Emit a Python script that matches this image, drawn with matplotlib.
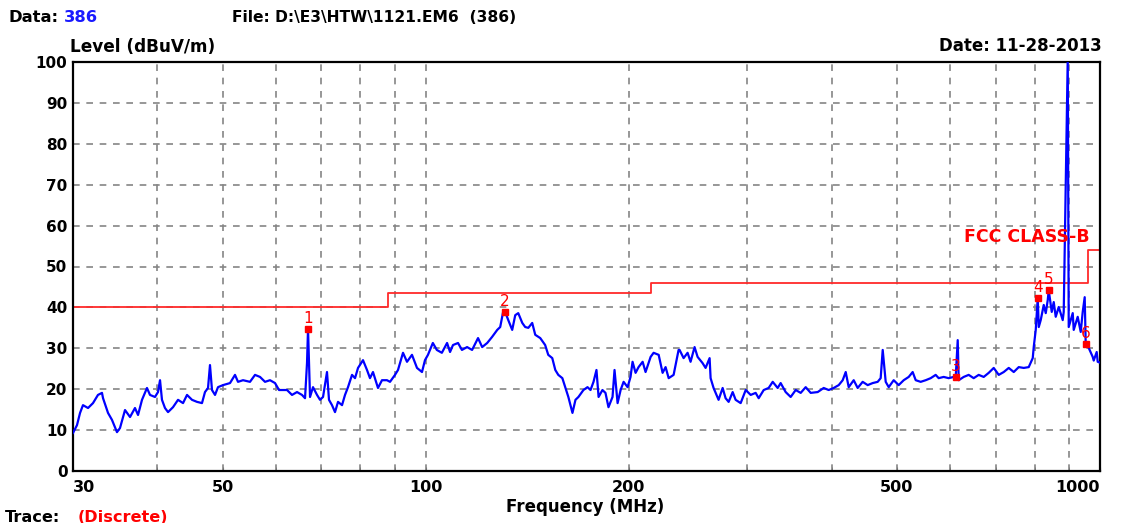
import matplotlib.pyplot as plt
from matplotlib.ticker import FixedLocator, NullLocator, NullFormatter

plt.rcParams['font.family'] = ['DejaVu Sans']

# scan data (MHz, dBuV/m)
freq = [30.0, 30.41, 30.73, 31.04, 31.58, 32.12, 32.67, 33.12, 33.24, 33.81, 34.27, 34.86, 35.22, 35.83,
        36.45, 37.07, 37.46, 37.97, 38.62, 39.02, 39.69, 40.10, 40.38, 40.65, 41.07, 41.50, 42.21, 42.94,
        43.68, 44.28, 45.04, 45.82, 46.60, 47.08, 47.57, 47.89, 48.22, 48.72, 49.22, 50.07, 51.28, 52.16,
        52.70, 53.61, 54.90, 55.85, 56.81, 57.79, 58.78, 59.80, 60.62,
        62.30, 63.37, 64.46, 65.57, 66.25, 66.70, 66.93, 67.39, 68.08, 69.02, 69.73, 70.45, 71.41, 71.90,
        72.64, 73.39, 74.15, 75.17, 75.94, 76.72, 77.78, 78.58, 79.39, 80.75, 81.86, 82.70, 83.55, 84.99,
        86.16, 87.64, 88.55, 90.07, 91.00, 92.57, 93.84, 95.45, 97.10, 98.77, 99.78, 100.8, 102.5, 103.9,
        105.7, 107.6, 108.7, 109.8, 111.7, 113.2, 115.2, 117.2, 119.6,
        121.3, 123.4, 125.5, 127.7, 129.0, 130.3, 131.2, 132.6, 134.4, 135.8, 137.2, 139.1, 140.5, 142.0,
        143.9, 145.4, 147.9, 150.4, 152.0, 154.1, 155.7, 157.3, 159.5, 161.1, 162.8, 165.1, 166.8, 168.5,
        171.4, 173.8, 175.6, 177.4, 179.2, 180.5, 182.9, 184.8, 186.7, 189.3, 190.6, 192.6, 194.6, 196.6,
        199.3, 201.3, 202.7, 204.8, 206.9, 209.8, 211.9, 215.6, 217.8, 221.6, 224.6, 226.9, 229.3, 233.2,
        237.2,
        238.0, 241.3, 244.6, 247.1, 250.5, 253.1, 257.4, 260.1, 263.7, 264.6, 267.3, 271.9, 275.7, 278.5,
        281.4, 285.3, 288.2, 293.2, 298.3, 303.4, 308.6, 311.8, 317.2, 322.6, 327.1, 332.7, 336.1, 341.9,
        347.8, 353.8, 359.9, 366.1, 372.4, 381.4, 389.3, 396.0, 402.8, 409.8, 415.4, 419.7, 424.0, 431.3,
        437.2, 444.7, 452.4, 460.2, 468.1, 472.9, 476.2, 481.1, 486.1, 494.4, 502.9, 511.6, 520.4, 527.5,
        533.0, 542.1, 551.5, 561.0, 570.6, 576.5, 586.4, 596.5, 606.8, 611.0, 615.2, 617.3, 627.9, 638.7,
        649.7, 660.9, 672.3, 683.9, 695.7, 707.7, 719.9, 732.3, 744.9, 757.7, 770.8, 784.0, 794.8, 797.5,
        803.0, 808.5, 811.3, 816.8, 825.2, 830.9, 836.6, 839.4, 848.1, 853.9, 859.7, 868.6, 880.5, 883.5,
        895.7, 898.7, 911.1, 914.2, 926.7, 936.3, 942.7, 949.1, 952.4, 962.2, 975.4, 978.8, 988.8, 992.2,
        1000.0]
level = [9.3, 11.2, 14.2, 16.1, 15.4, 16.6, 18.6, 19.1, 17.8, 14.2, 12.5, 9.5, 10.5, 14.9,
         13.2, 15.4, 13.7, 17.4, 20.3, 18.6, 18.1, 19.3, 22.2, 17.4, 15.4, 14.4, 15.6, 17.4,
         16.6, 18.6, 17.4, 16.9, 16.6, 19.3, 20.3, 25.9, 19.8, 18.6, 20.5, 21.0, 21.5, 23.5,
         21.8, 22.2, 21.8, 23.5, 23.0, 21.8, 22.2, 21.5, 19.8,
         19.8, 18.6, 19.3, 18.6, 17.8, 26.4, 34.7, 18.1, 20.5, 18.6, 17.4, 18.1, 24.2, 17.4,
         16.1, 14.4, 16.9, 16.1, 18.6, 20.5, 23.5, 22.7, 25.2, 27.1, 24.7, 22.7, 24.2, 20.3,
         22.2, 22.2, 21.8, 23.5, 24.7, 28.9, 26.7, 28.4, 25.2, 24.2, 27.1, 28.4, 31.3, 29.6,
         28.9, 31.3, 29.1, 30.8, 31.3, 29.6, 30.3, 29.6, 32.5,
         30.3, 31.3, 32.8, 34.5, 35.2, 38.9, 38.9, 36.9, 34.5, 38.1, 38.6, 36.2, 35.2, 35.0,
         36.2, 33.3, 32.5, 30.8, 28.4, 27.6, 24.7, 23.5, 22.7, 20.5, 18.1, 14.2, 17.4, 18.1,
         19.8, 20.5, 19.8, 21.8, 24.7, 18.1, 19.8, 19.1, 15.6, 18.1, 24.7, 16.6, 19.8, 21.8,
         20.5, 23.0, 26.7, 24.0, 25.4, 26.7, 24.2, 27.9, 28.9, 28.4, 24.0, 25.4, 22.7, 23.5,
         29.6,
         29.6, 27.6, 28.9, 26.7, 30.3, 27.9, 26.4, 25.2, 27.6, 22.7, 20.3, 17.4, 20.3, 17.8,
         16.9, 19.3, 17.4, 16.6, 19.8, 18.6, 19.1, 17.8, 19.8, 20.3, 21.8, 20.3, 21.5, 19.3,
         18.1, 19.8, 19.1, 20.5, 19.1, 19.3, 20.3, 19.8, 20.3, 21.0, 22.2, 24.2, 20.5, 22.2,
         20.3, 21.8, 21.0, 21.5, 21.8, 22.7, 29.6, 21.8, 20.5, 22.2, 21.0, 22.2, 23.0, 24.2,
         22.2, 21.8, 22.2, 22.7, 23.5, 22.7, 23.0, 22.7, 23.0, 23.0, 32.0, 22.2, 23.0, 23.5,
         22.7, 23.5, 23.0, 24.0, 25.2, 23.5, 24.2, 25.2, 24.2, 25.4, 25.2, 25.4, 27.6, 30.3,
         34.5, 42.3, 35.2, 36.9, 40.6, 38.6, 41.8, 44.2, 38.9, 41.3, 37.7, 40.1, 36.9, 38.9,
         101.0, 35.2, 38.6, 34.5, 37.7, 34.0, 38.9, 42.5, 31.0, 30.1, 27.9, 27.0, 29.1, 26.7,
         26.5]

# FCC class B limit steps
limit_freq = [30, 88, 88, 216, 216, 960, 960, 1000]
limit_level = [40, 40, 43.5, 43.5, 46, 46, 54, 54]

# peak markers
mark_freq = [66.93, 131.2, 611.0, 808.5, 839.4, 952.4]
mark_level = [34.7, 38.9, 23.0, 42.3, 44.2, 31.0]
mark_names = ['1', '2', '3', '4', '5', '6']

grid_freq = [40, 50, 60, 70, 80, 90, 100, 200, 300, 400, 500, 600, 700, 800, 900]
xtick_vals = [30, 50, 100, 200, 500, 1000]
ytick_vals = [0, 10, 20, 30, 40, 50, 60, 70, 80, 90, 100]

W, H = 1124, 523
fig = plt.figure(figsize=(W / 100, H / 100), dpi=100)
ax = fig.add_axes([73 / W, 1 - 471 / H, (1100 - 73) / W, (471 - 62) / H])

ax.set_xscale('log')
ax.set_xlim(30, 1000)
ax.set_ylim(0, 100)

for g in grid_freq:
    ax.axvline(g, color='#858585', lw=1.2, ls=(0, (4, 4)), zorder=1)
for g in ytick_vals[1:-1]:
    ax.axhline(g, color='#858585', lw=1.2, ls=(0, (4, 4)), zorder=1)

ax.plot(limit_freq, limit_level, color='#ff2a2a', lw=1.3, zorder=2)
ax.plot(freq, level, color='#0000ff', lw=1.6, zorder=3)
ax.plot(mark_freq, mark_level, 's', color='#ff0000', ms=4.5, zorder=4)
for f, l, n in zip(mark_freq, mark_level, mark_names):
    ax.annotate(n, (f, l), xytext=(0, 2), textcoords='offset points',
                ha='center', va='bottom', color='#ff0000', fontsize=11, zorder=5)

ax.text(966, 57.2, 'FCC CLASS-B', color='#ff0000', fontsize=12.5, fontweight='bold',
        ha='right', va='center')

ax.xaxis.set_major_locator(FixedLocator(xtick_vals))
ax.xaxis.set_minor_locator(FixedLocator(grid_freq))
ax.xaxis.set_minor_formatter(NullFormatter())
ax.set_xticklabels([])
ax.tick_params(axis='x', which='both', direction='in', length=3, color='#777777')
ax.yaxis.set_major_locator(FixedLocator(ytick_vals))
ax.yaxis.set_minor_locator(NullLocator())
ax.set_yticklabels([str(v) for v in ytick_vals], fontsize=11, fontweight='bold')
ax.tick_params(axis='y', length=0, pad=4)

for v in xtick_vals:
    ha = 'left' if v == 30 else ('right' if v == 1000 else 'center')
    ax.text(v, -2.3, str(v), ha=ha, va='top', fontsize=11.5, fontweight='bold')

for s in ax.spines.values():
    s.set_linewidth(1.6)
    s.set_color('black')


def ftext(x, y, s, size=12, **kw):
    fig.text(x / W, 1 - y / H, s, va='center', fontweight='bold', fontsize=size, **kw)


ftext(8, 17, 'Data:', 11.8)
ftext(64, 17, '386', 11.8, color='#1a1aff')
ftext(232, 17, 'File: D:\\E3\\HTW\\1121.EM6  (386)', 11.2)
ftext(70, 47, 'Level (dBuV/m)', 12.2)
ftext(1102, 46, 'Date: 11-28-2013', 12, ha='right')
ftext(585, 507, 'Frequency (MHz)', 12, ha='center')
ftext(5, 517, 'Trace:', 11.6)
ftext(78, 517, '(Discrete)', 11.6, color='#ff0000')

fig.savefig('out.png', dpi=100)
